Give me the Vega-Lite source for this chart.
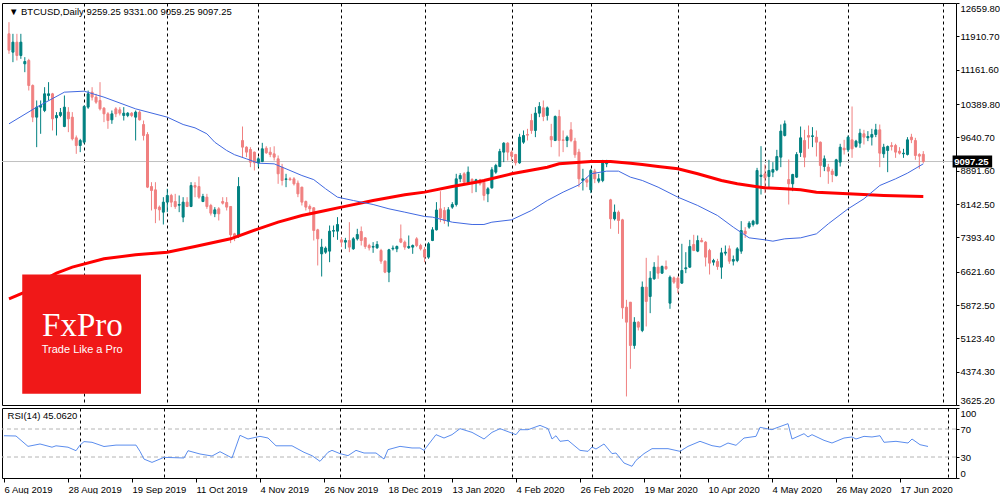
{
"$schema": "https://vega.github.io/schema/vega-lite/v6.json",
"padding": {"left": 1, "top": 2, "right": 0, "bottom": 0},
"background": "white",
"spacing": 3,
"bounds": "flush",
"config": {"view": {"stroke": "black", "strokeWidth": 1}, "axis": {"labelFont": "Liberation Sans", "labelFontSize": 9.5, "labelColor": "black", "tickColor": "black", "labelOverlap": false}},
"datasets": {"btc": [
{"d":"2019-08-06","o":11967,"h":12229,"l":11517,"c":11600,"m":9944,"m2":6012,"r":60.4},
{"d":"2019-08-07","o":11555,"h":11967,"l":11330,"c":11780},
{"d":"2019-08-08","o":11780,"h":11967,"l":11368,"c":11480},
{"d":"2019-08-09","o":11480,"h":11967,"l":11405,"c":11780,"r":60},
{"d":"2019-08-12","o":11293,"h":11443,"l":11105,"c":11345,"m2":6161},
{"d":"2019-08-13","o":11368,"h":11405,"l":10693,"c":10806},
{"d":"2019-08-14","o":10806,"h":10830,"l":9982,"c":10094,"r":45.2},
{"d":"2019-08-15","o":10094,"h":10469,"l":9420,"c":10319,"m":10319,"m2":6349},
{"d":"2019-08-16","o":10319,"h":10469,"l":9720,"c":10356},
{"d":"2019-08-19","o":10244,"h":10768,"l":10207,"c":10619,"r":48.6},
{"d":"2019-08-20","o":10581,"h":10881,"l":10469,"c":10619},
{"d":"2019-08-21","o":10619,"h":10640,"l":9795,"c":10057},
{"d":"2019-08-22","o":10079,"h":10207,"l":9682,"c":10132,"m2":6588,"r":44},
{"d":"2019-08-23","o":10132,"h":10300,"l":10094,"c":10200,"r":46},
{"d":"2019-08-26","o":9884,"h":10581,"l":9869,"c":10319,"m":10656},
{"d":"2019-08-27","o":10207,"h":10319,"l":9757,"c":10057},
{"d":"2019-08-28","o":10094,"h":10207,"l":9570,"c":9607,"m2":6723,"r":44},
{"d":"2019-08-29","o":9630,"h":9682,"l":9270,"c":9457},
{"d":"2019-08-30","o":9457,"h":9607,"l":9308,"c":9570,"r":39},
{"d":"2019-09-02","o":9532,"h":10360,"l":9500,"c":10334,"m":10678,"r":47},
{"d":"2019-09-03","o":10319,"h":10693,"l":10281,"c":10619,"r":52},
{"d":"2019-09-04","o":10656,"h":10768,"l":10469,"c":10544},
{"d":"2019-09-05","o":10544,"h":10619,"l":10394,"c":10431,"r":51},
{"d":"2019-09-06","o":10469,"h":10881,"l":10244,"c":10281},
{"d":"2019-09-09","o":10297,"h":10319,"l":9982,"c":10169,"m":10544,"m2":6910},
{"d":"2019-09-10","o":10169,"h":10207,"l":9832,"c":10019,"r":45},
{"d":"2019-09-11","o":10034,"h":10244,"l":9944,"c":10169},
{"d":"2019-09-12","o":10281,"h":10319,"l":10094,"c":10169},
{"d":"2019-09-13","o":10259,"h":10319,"l":10132,"c":10184,"r":47},
{"d":"2019-09-16","o":10132,"h":10319,"l":10019,"c":10184},
{"d":"2019-09-17","o":10132,"h":10207,"l":10094,"c":10184},
{"d":"2019-09-18","o":10184,"h":10207,"l":10094,"c":10132},
{"d":"2019-09-19","o":10094,"h":10244,"l":9570,"c":10207,"m":10281,"m2":7000},
{"d":"2019-09-20","o":10207,"h":10244,"l":10019,"c":10034,"r":47},
{"d":"2019-09-23","o":9929,"h":10019,"l":9570,"c":9682,"r":38},
{"d":"2019-09-24","o":9705,"h":9757,"l":8500,"c":8521,"r":27},
{"d":"2019-09-25","o":8536,"h":8633,"l":7997,"c":8446},
{"d":"2019-09-26","o":8461,"h":8633,"l":7712,"c":8034,"r":22.3},
{"d":"2019-09-27","o":8072,"h":8109,"l":7772,"c":8012},
{"d":"2019-09-30","o":7959,"h":8296,"l":7682,"c":8184},
{"d":"2019-10-01","o":8184,"h":8484,"l":7959,"c":8334,"m":10094,"m2":7060,"r":29.5},
{"d":"2019-10-02","o":8334,"h":8371,"l":8072,"c":8184},
{"d":"2019-10-03","o":8199,"h":8371,"l":8034,"c":8087},
{"d":"2019-10-04","o":8116,"h":8334,"l":7959,"c":8131},
{"d":"2019-10-07","o":7847,"h":8296,"l":7734,"c":8184,"m":9929},
{"d":"2019-10-08","o":8184,"h":8296,"l":8072,"c":8087,"r":28.6},
{"d":"2019-10-09","o":8087,"h":8633,"l":8072,"c":8558,"r":39},
{"d":"2019-10-10","o":8558,"h":8633,"l":8296,"c":8521,"m":9854,"m2":7188},
{"d":"2019-10-11","o":8536,"h":8761,"l":8259,"c":8296},
{"d":"2019-10-14","o":8199,"h":8371,"l":8184,"c":8311,"r":34.3},
{"d":"2019-10-15","o":8296,"h":8371,"l":8034,"c":8087,"m":9720},
{"d":"2019-10-16","o":8109,"h":8146,"l":7884,"c":7937},
{"d":"2019-10-17","o":7922,"h":8072,"l":7847,"c":8012,"m":9530,"r":31.4},
{"d":"2019-10-18","o":8034,"h":8072,"l":7772,"c":7922},
{"d":"2019-10-21","o":8199,"h":8296,"l":8131,"c":8161,"r":37.6},
{"d":"2019-10-22","o":8176,"h":8296,"l":7997,"c":8072,"m":9345},
{"d":"2019-10-23","o":8087,"h":8094,"l":7263,"c":7450,"m2":7360},
{"d":"2019-10-24","o":7472,"h":7495,"l":7308,"c":7412,"m":9250,"r":28.6},
{"d":"2019-10-25","o":7412,"h":8746,"l":7382,"c":8536},
{"d":"2019-10-28","o":9570,"h":9884,"l":9195,"c":9420,"r":61},
{"d":"2019-10-29","o":9420,"h":9440,"l":9195,"c":9308,"m":9158},
{"d":"2019-10-30","o":9368,"h":9420,"l":8970,"c":9083,"r":55.7},
{"d":"2019-10-31","o":9308,"h":9320,"l":8896,"c":9068},
{"d":"2019-11-01","o":9068,"h":9195,"l":8970,"c":9158,"m":9060,"m2":7585},
{"d":"2019-11-04","o":9098,"h":9517,"l":9083,"c":9383,"r":59.5},
{"d":"2019-11-05","o":9397,"h":9442,"l":9270,"c":9293},
{"d":"2019-11-06","o":9308,"h":9420,"l":9195,"c":9255,"r":57.1},
{"d":"2019-11-07","o":9270,"h":9440,"l":9120,"c":9195,"m":9045},
{"d":"2019-11-08","o":9158,"h":9233,"l":8596,"c":8821,"m2":7734,"r":46},
{"d":"2019-11-11","o":8970,"h":9045,"l":8558,"c":8671},
{"d":"2019-11-12","o":8693,"h":8821,"l":8521,"c":8708},
{"d":"2019-11-13","o":8708,"h":8746,"l":8671,"c":8686,"m":8896},
{"d":"2019-11-14","o":8708,"h":8746,"l":8558,"c":8596,"r":46},
{"d":"2019-11-15","o":8611,"h":8671,"l":8296,"c":8371},
{"d":"2019-11-18","o":8521,"h":8530,"l":8109,"c":8184,"m":8783,"m2":7884},
{"d":"2019-11-19","o":8199,"h":8221,"l":7997,"c":8072,"r":36.7},
{"d":"2019-11-20","o":8087,"h":8131,"l":7922,"c":8034},
{"d":"2019-11-21","o":8057,"h":8072,"l":7322,"c":7547,"m":8690,"r":31.9},
{"d":"2019-11-22","o":7562,"h":7585,"l":6761,"c":7360},
{"d":"2019-11-25","o":7023,"h":7360,"l":6513,"c":7173,"r":23.8},
{"d":"2019-11-26","o":7060,"h":7188,"l":7023,"c":7150,"m":8484,"m2":7997},
{"d":"2019-11-27","o":7083,"h":7659,"l":6835,"c":7532,"r":36.7},
{"d":"2019-11-28","o":7532,"h":7659,"l":7397,"c":7547,"r":39.5},
{"d":"2019-11-29","o":7532,"h":7847,"l":7337,"c":7682,"m":8296},
{"d":"2019-12-02","o":7337,"h":7397,"l":7173,"c":7285,"m2":8072,"r":34.8},
{"d":"2019-12-03","o":7285,"h":7382,"l":7135,"c":7322},
{"d":"2019-12-04","o":7322,"h":7734,"l":7060,"c":7173,"r":31.9},
{"d":"2019-12-05","o":7135,"h":7397,"l":7113,"c":7360,"m":8221},
{"d":"2019-12-06","o":7360,"h":7585,"l":7322,"c":7457,"r":39.5},
{"d":"2019-12-09","o":7525,"h":7637,"l":7210,"c":7322},
{"d":"2019-12-10","o":7382,"h":7397,"l":7135,"c":7188,"r":35.7},
{"d":"2019-12-11","o":7210,"h":7248,"l":7098,"c":7158},
{"d":"2019-12-12","o":7173,"h":7285,"l":7045,"c":7188,"m":8131,"m2":8221},
{"d":"2019-12-13","o":7158,"h":7308,"l":7135,"c":7233,"r":35.7},
{"d":"2019-12-16","o":7098,"h":7135,"l":6798,"c":6858},
{"d":"2019-12-17","o":6858,"h":6873,"l":6588,"c":6611,"r":27.1},
{"d":"2019-12-18","o":6611,"h":7135,"l":6386,"c":7113,"m":8034,"r":40.5},
{"d":"2019-12-19","o":7135,"h":7210,"l":7098,"c":7150},
{"d":"2019-12-20","o":7135,"h":7210,"l":7060,"c":7188},
{"d":"2019-12-23","o":7360,"h":7682,"l":7263,"c":7285,"r":45.2},
{"d":"2019-12-24","o":7285,"h":7322,"l":7113,"c":7173,"m":7959,"m2":8349},
{"d":"2019-12-26","o":7158,"h":7435,"l":7135,"c":7188},
{"d":"2019-12-27","o":7173,"h":7233,"l":7023,"c":7210,"r":42.9},
{"d":"2019-12-30","o":7360,"h":7397,"l":7173,"c":7210},
{"d":"2019-12-31","o":7210,"h":7248,"l":7098,"c":7135,"r":42.9},
{"d":"2020-01-02","o":7113,"h":7173,"l":6835,"c":6948,"m":7862,"m2":8409,"r":39.5},
{"d":"2020-01-03","o":6948,"h":7285,"l":6910,"c":7248},
{"d":"2020-01-06","o":7322,"h":7622,"l":7308,"c":7562,"m":7847},
{"d":"2020-01-07","o":7562,"h":8184,"l":7547,"c":8007,"r":61.9},
{"d":"2020-01-08","o":8034,"h":8431,"l":7734,"c":7832},
{"d":"2020-01-09","o":7997,"h":8072,"l":7697,"c":7772,"r":57.1},
{"d":"2020-01-10","o":7757,"h":8072,"l":7637,"c":8012},
{"d":"2020-01-13","o":8072,"h":8184,"l":8034,"c":8131,"m":7734,"m2":8536,"r":61.9},
{"d":"2020-01-14","o":8131,"h":8821,"l":8087,"c":8708},
{"d":"2020-01-15","o":8708,"h":8836,"l":8633,"c":8783,"r":70.5},
{"d":"2020-01-16","o":8821,"h":8858,"l":8611,"c":8633},
{"d":"2020-01-17","o":8633,"h":8985,"l":8611,"c":8858},
{"d":"2020-01-20","o":8693,"h":8723,"l":8386,"c":8633,"m":7682,"r":65.2},
{"d":"2020-01-21","o":8633,"h":8708,"l":8409,"c":8686,"m2":8633},
{"d":"2020-01-22","o":8686,"h":8708,"l":8558,"c":8596},
{"d":"2020-01-23","o":8633,"h":8671,"l":8221,"c":8334,"m":7682,"m2":8671,"r":55.7},
{"d":"2020-01-24","o":8371,"h":8521,"l":8184,"c":8484},
{"d":"2020-01-27","o":8506,"h":8970,"l":8484,"c":8911,"m":7734,"r":65.2},
{"d":"2020-01-28","o":8858,"h":9045,"l":8821,"c":9008},
{"d":"2020-01-29","o":8985,"h":9383,"l":8970,"c":9323,"r":70.5},
{"d":"2020-01-30","o":9308,"h":9532,"l":9083,"c":9510},
{"d":"2020-01-31","o":9510,"h":9532,"l":9120,"c":9308},
{"d":"2020-02-03","o":9308,"h":9345,"l":9120,"c":9218,"m":7787,"m2":8821},
{"d":"2020-02-04","o":9255,"h":9270,"l":9008,"c":9068,"r":61.9},
{"d":"2020-02-05","o":9068,"h":9720,"l":9045,"c":9645,"r":69},
{"d":"2020-02-06","o":9532,"h":9795,"l":9495,"c":9682},
{"d":"2020-02-07","o":9705,"h":9832,"l":9570,"c":9690,"r":69},
{"d":"2020-02-10","o":10019,"h":10169,"l":9720,"c":9795,"m":7997},
{"d":"2020-02-11","o":9795,"h":10319,"l":9645,"c":10184},
{"d":"2020-02-12","o":10184,"h":10431,"l":10094,"c":10334,"r":75.2},
{"d":"2020-02-13","o":10304,"h":10469,"l":10004,"c":10109},
{"d":"2020-02-14","o":10132,"h":10334,"l":10019,"c":10304,"m":8221,"m2":8970,"r":70.5},
{"d":"2020-02-17","o":9660,"h":9944,"l":9420,"c":9585,"r":55.7},
{"d":"2020-02-18","o":9570,"h":10132,"l":9555,"c":10109,"r":60.4},
{"d":"2020-02-19","o":10109,"h":10259,"l":9210,"c":9570,"m2":9045,"r":52.4},
{"d":"2020-02-20","o":9585,"h":9795,"l":9308,"c":9570,"m":8409},
{"d":"2020-02-21","o":9570,"h":9682,"l":9420,"c":9645,"r":53.8},
{"d":"2020-02-24","o":9810,"h":9982,"l":9532,"c":9570},
{"d":"2020-02-25","o":9555,"h":9630,"l":9180,"c":9248},
{"d":"2020-02-26","o":9308,"h":9383,"l":8521,"c":8708,"m":8573,"r":39.5},
{"d":"2020-02-27","o":8671,"h":8933,"l":8446,"c":8708},
{"d":"2020-02-28","o":8686,"h":8746,"l":8521,"c":8633,"r":38.1},
{"d":"2020-03-02","o":8461,"h":8933,"l":8386,"c":8896,"m":8821,"m2":9098,"r":44.3},
{"d":"2020-03-03","o":8881,"h":8933,"l":8611,"c":8708,"r":41.4},
{"d":"2020-03-04","o":8656,"h":8821,"l":8611,"c":8708},
{"d":"2020-03-05","o":8671,"h":9135,"l":8633,"c":9105,"r":48.6},
{"d":"2020-03-06","o":9045,"h":9135,"l":8970,"c":9105,"m":8881},
{"d":"2020-03-09","o":8236,"h":8259,"l":7585,"c":7809,"m2":9098,"r":34.8},
{"d":"2020-03-10","o":7809,"h":8131,"l":7772,"c":7959,"r":35.7},
{"d":"2020-03-11","o":7959,"h":7997,"l":7472,"c":7772,"m":8881},
{"d":"2020-03-12","o":7787,"h":7809,"l":5562,"c":5809,"r":21.4},
{"d":"2020-03-13","o":5824,"h":5989,"l":3817,"c":5487},
{"d":"2020-03-16","o":5936,"h":5936,"l":4438,"c":4963,"m":8746,"m2":9060,"r":16.7},
{"d":"2020-03-17","o":4963,"h":5599,"l":4888,"c":5487,"r":25.2},
{"d":"2020-03-18","o":5487,"h":5510,"l":5300,"c":5375},
{"d":"2020-03-19","o":5300,"h":6401,"l":5262,"c":6274,"m":8671,"m2":9030,"r":34.8},
{"d":"2020-03-20","o":6274,"h":6933,"l":5390,"c":5952},
{"d":"2020-03-23","o":6064,"h":6633,"l":5689,"c":6476,"r":41.9},
{"d":"2020-03-24","o":6461,"h":6836,"l":6438,"c":6723},
{"d":"2020-03-25","o":6723,"h":6985,"l":6461,"c":6588,"m":8521,"m2":8985},
{"d":"2020-03-26","o":6588,"h":6761,"l":6573,"c":6738},
{"d":"2020-03-27","o":6738,"h":6873,"l":6663,"c":6686,"r":41.9},
{"d":"2020-03-30","o":5914,"h":6536,"l":5787,"c":6498},
{"d":"2020-03-31","o":6483,"h":6513,"l":6348,"c":6386},
{"d":"2020-04-01","o":6476,"h":6513,"l":6139,"c":6259,"m":8296,"m2":8933,"r":38.1},
{"d":"2020-04-02","o":6364,"h":7248,"l":6348,"c":6648},
{"d":"2020-04-03","o":6686,"h":7060,"l":6588,"c":6708,"r":45.2},
{"d":"2020-04-06","o":6723,"h":7337,"l":6708,"c":7188},
{"d":"2020-04-07","o":7233,"h":7450,"l":7083,"c":7098},
{"d":"2020-04-08","o":7083,"h":7435,"l":7060,"c":7322,"m":8109,"m2":8821,"r":52.4},
{"d":"2020-04-09","o":7322,"h":7382,"l":7285,"c":7293},
{"d":"2020-04-10","o":7285,"h":7308,"l":6738,"c":6948},
{"d":"2020-04-13","o":7098,"h":7135,"l":6558,"c":6813,"r":46.2},
{"d":"2020-04-14","o":6835,"h":6910,"l":6761,"c":6873},
{"d":"2020-04-15","o":6850,"h":6910,"l":6663,"c":6738,"m":7884,"r":44.3},
{"d":"2020-04-16","o":6723,"h":7158,"l":6461,"c":7045,"m2":8671},
{"d":"2020-04-17","o":7038,"h":7210,"l":6985,"c":7060,"r":50},
{"d":"2020-04-20","o":7135,"h":7210,"l":6798,"c":6858},
{"d":"2020-04-21","o":6858,"h":6985,"l":6761,"c":6895,"m":7622,"r":46.7},
{"d":"2020-04-22","o":6873,"h":7173,"l":6835,"c":7135,"m2":8596},
{"d":"2020-04-23","o":7083,"h":7757,"l":7023,"c":7547,"r":57.1},
{"d":"2020-04-24","o":7532,"h":7622,"l":7382,"c":7472},
{"d":"2020-04-27","o":7622,"h":7757,"l":7585,"c":7712,"m":7382},
{"d":"2020-04-28","o":7682,"h":7787,"l":7637,"c":7757,"r":59.5},
{"d":"2020-04-29","o":7697,"h":8955,"l":7682,"c":8896,"r":72.4},
{"d":"2020-04-30","o":8761,"h":9442,"l":8356,"c":8791},
{"d":"2020-05-01","o":8821,"h":9030,"l":8386,"c":8731,"m":7337,"m2":8506},
{"d":"2020-05-04","o":8761,"h":9135,"l":8506,"c":8896,"r":69},
{"d":"2020-05-05","o":8858,"h":9083,"l":8746,"c":8918,"m":7307,"r":71.4},
{"d":"2020-05-06","o":8911,"h":9360,"l":8881,"c":9210},
{"d":"2020-05-07","o":9195,"h":9929,"l":8970,"c":9780},
{"d":"2020-05-08","o":9682,"h":10019,"l":9660,"c":9944,"m":7360,"m2":8484,"r":77.6},
{"d":"2020-05-11","o":8693,"h":9143,"l":8131,"c":8596,"r":55.7},
{"d":"2020-05-12","o":8596,"h":8821,"l":8431,"c":8806},
{"d":"2020-05-13","o":8746,"h":9308,"l":8731,"c":9255},
{"d":"2020-05-14","o":9300,"h":9884,"l":9200,"c":9630,"m":7382,"m2":8461,"r":63.3},
{"d":"2020-05-15","o":9570,"h":9810,"l":8970,"c":9195,"r":58.6},
{"d":"2020-05-18","o":9682,"h":9907,"l":9383,"c":9645,"r":61.9},
{"d":"2020-05-19","o":9660,"h":9870,"l":9420,"c":9675},
{"d":"2020-05-20","o":9645,"h":9795,"l":9210,"c":9532,"m":7472,"m2":8409},
{"d":"2020-05-21","o":9532,"h":9547,"l":8746,"c":9008,"r":53.8},
{"d":"2020-05-22","o":8985,"h":9233,"l":8881,"c":9158},
{"d":"2020-05-25","o":8970,"h":9045,"l":8596,"c":8881,"m":7697,"r":50},
{"d":"2020-05-26","o":8881,"h":8933,"l":8633,"c":8806},
{"d":"2020-05-27","o":8783,"h":9158,"l":8761,"c":9135},
{"d":"2020-05-28","o":9083,"h":9495,"l":8985,"c":9420,"r":57.1},
{"d":"2020-05-29","o":9397,"h":9585,"l":9255,"c":9360},
{"d":"2020-06-01","o":9360,"h":9682,"l":9308,"c":9645,"m":8034,"m2":8371,"r":58.6},
{"d":"2020-06-02","o":9585,"h":10334,"l":9180,"c":9383,"r":55.7},
{"d":"2020-06-03","o":9435,"h":9585,"l":9405,"c":9555},
{"d":"2020-06-04","o":9510,"h":9832,"l":9405,"c":9735,"r":59.5},
{"d":"2020-06-05","o":9720,"h":9810,"l":9480,"c":9645,"m":8259},
{"d":"2020-06-08","o":9630,"h":9780,"l":9555,"c":9660,"r":58.6},
{"d":"2020-06-09","o":9645,"h":9832,"l":9457,"c":9705},
{"d":"2020-06-10","o":9705,"h":9944,"l":9645,"c":9810,"r":60.4},
{"d":"2020-06-11","o":9810,"h":9929,"l":8970,"c":9285,"m":8558,"r":51},
{"d":"2020-06-12","o":9270,"h":9495,"l":9180,"c":9420,"m2":8334},
{"d":"2020-06-15","o":9345,"h":9457,"l":8858,"c":9435},
{"d":"2020-06-16","o":9457,"h":9532,"l":9345,"c":9435,"r":52.4},
{"d":"2020-06-17","o":9457,"h":9495,"l":9180,"c":9308,"m":8708},
{"d":"2020-06-18","o":9330,"h":9420,"l":9255,"c":9285},
{"d":"2020-06-19","o":9270,"h":9383,"l":9180,"c":9285,"r":50},
{"d":"2020-06-22","o":9255,"h":9645,"l":9233,"c":9585,"m":8836,"r":55.7},
{"d":"2020-06-23","o":9645,"h":9720,"l":9510,"c":9585},
{"d":"2020-06-24","o":9570,"h":9630,"l":9135,"c":9233,"r":47.6},
{"d":"2020-06-25","o":9255,"h":9285,"l":8933,"c":9218},
{"d":"2020-06-26","o":9259.25,"h":9331,"l":9059.25,"c":9097.25,"m":9045,"m2":8311,"r":45.06}
]},
"vconcat": [
{
"width": 954, "height": 402,
"layer": [
{"data": {"values": [{}]}, "mark": {"type": "rule", "color": "#C0C0C0", "strokeWidth": 1},
 "encoding": {"y": {"datum": 9097.25, "type": "quantitative", "scale": {"domain": [3625.2, 12659.8], "nice": false, "zero": false}}}},
{"data": {"name": "btc"}, "transform": [{"window": [{"op": "row_number", "as": "i"}]}],
 "mark": {"type": "rule", "strokeWidth": 1},
 "encoding": {
  "x": {"field": "i", "type": "quantitative", "scale": {"domain": [0.5, 239], "nice": false, "zero": false},
        "axis": {"values": [20, 41, 64, 85, 106, 128, 148, 170, 192, 213, 237], "tickCount": 200, "grid": true, "gridColor": "black", "gridDash": [3, 3], "gridOpacity": 1, "labels": false, "ticks": false, "domain": false, "title": null}},
  "y": {"field": "l", "type": "quantitative", "scale": {"domain": [3625.2, 12659.8], "nice": false, "zero": false},
        "axis": {"orient": "right", "values": [3625.2, 4374.3, 5123.4, 5872.5, 6621.6, 7393.4, 8142.5, 8891.6, 9640.7, 10389.8, 11161.6, 11910.7, 12659.8], "tickCount": 200, "format": ".2f", "labelFlush": true, "labelOverlap": false, "grid": false, "tickSize": 3, "labelPadding": 1, "domain": false, "title": null}},
  "y2": {"field": "h"},
  "stroke": {"condition": {"test": "datum.c >= datum.o", "value": "#008080"}, "value": "#F08080"}
 }},
{"data": {"name": "btc"}, "transform": [{"window": [{"op": "row_number", "as": "i"}]}],
 "mark": {"type": "bar", "size": 2, "strokeWidth": 1},
 "encoding": {
  "x": {"field": "i", "type": "quantitative", "scale": {"domain": [0.5, 239], "nice": false, "zero": false}},
  "y": {"field": "o", "type": "quantitative", "scale": {"domain": [3625.2, 12659.8], "nice": false, "zero": false}},
  "y2": {"field": "c"},
  "fill": {"condition": {"test": "datum.c >= datum.o", "value": "#008080"}, "value": "#F08080"},
  "stroke": {"condition": {"test": "datum.c >= datum.o", "value": "#008080"}, "value": "#F08080"}
 }},
{"data": {"name": "btc"}, "transform": [{"window": [{"op": "row_number", "as": "i"}]}, {"filter": "datum.m2 != null"}],
 "mark": {"type": "line", "color": "#FF0000", "strokeWidth": 3},
 "encoding": {
  "x": {"field": "i", "type": "quantitative", "scale": {"domain": [0.5, 239], "nice": false, "zero": false}},
  "y": {"field": "m2", "type": "quantitative", "scale": {"domain": [3625.2, 12659.8], "nice": false, "zero": false}}
 }},
{"data": {"name": "btc"}, "transform": [{"window": [{"op": "row_number", "as": "i"}]}, {"filter": "datum.m != null"}],
 "mark": {"type": "line", "color": "#4169E1", "strokeWidth": 1},
 "encoding": {
  "x": {"field": "i", "type": "quantitative", "scale": {"domain": [0.5, 239], "nice": false, "zero": false}},
  "y": {"field": "m", "type": "quantitative", "scale": {"domain": [3625.2, 12659.8], "nice": false, "zero": false}}
 }},
{"data": {"values": [{}]}, "mark": {"type": "rect", "color": "#F01818"},
 "encoding": {
  "x": {"datum": 4.35, "type": "quantitative", "scale": {"domain": [0.5, 239], "nice": false, "zero": false}},
  "x2": {"datum": 34.35},
  "y": {"datum": 6558, "type": "quantitative", "scale": {"domain": [3625.2, 12659.8], "nice": false, "zero": false}},
  "y2": {"datum": 3877}
 }},
{"data": {"values": [{}]}, "mark": {"type": "text", "text": "FxPro", "font": "Liberation Serif", "fontSize": 33, "color": "white", "align": "center", "baseline": "alphabetic"},
 "encoding": {
  "x": {"datum": 19.55, "type": "quantitative", "scale": {"domain": [0.5, 239], "nice": false, "zero": false}},
  "y": {"datum": 5175, "type": "quantitative", "scale": {"domain": [3625.2, 12659.8], "nice": false, "zero": false}}
 }},
{"data": {"values": [{}]}, "mark": {"type": "text", "text": "Trade Like a Pro", "font": "Liberation Sans", "fontSize": 11, "color": "white", "align": "center", "baseline": "alphabetic"},
 "encoding": {
  "x": {"datum": 19.5, "type": "quantitative", "scale": {"domain": [0.5, 239], "nice": false, "zero": false}},
  "y": {"datum": 4805, "type": "quantitative", "scale": {"domain": [3625.2, 12659.8], "nice": false, "zero": false}}
 }},
{"data": {"values": [{}]}, "mark": {"type": "text", "text": "▼ BTCUSD,Daily  9259.25 9331.00 9059.25 9097.25", "font": "Liberation Sans", "fontSize": 9.5, "color": "black", "align": "left", "baseline": "middle"},
 "encoding": {
  "x": {"datum": 1.0, "type": "quantitative", "scale": {"domain": [0.5, 239], "nice": false, "zero": false}},
  "y": {"datum": 12453, "type": "quantitative", "scale": {"domain": [3625.2, 12659.8], "nice": false, "zero": false}}
 }},
{"data": {"values": [{}]}, "mark": {"type": "rect", "color": "black"},
 "encoding": {
  "x": {"datum": 239.4, "type": "quantitative", "scale": {"domain": [0.5, 239], "nice": false, "zero": false}},
  "x2": {"datum": 249.4},
  "y": {"datum": 9232, "type": "quantitative", "scale": {"domain": [3625.2, 12659.8], "nice": false, "zero": false}},
  "y2": {"datum": 8962}
 }},
{"data": {"values": [{}]}, "mark": {"type": "text", "text": "9097.25", "font": "Liberation Sans", "fontSize": 9.5, "fontWeight": "bold", "color": "white", "align": "left", "baseline": "middle"},
 "encoding": {
  "x": {"datum": 239.8, "type": "quantitative", "scale": {"domain": [0.5, 239], "nice": false, "zero": false}},
  "y": {"datum": 9097.25, "type": "quantitative", "scale": {"domain": [3625.2, 12659.8], "nice": false, "zero": false}}
 }}
]
},
{
"width": 954, "height": 70,
"layer": [
{"data": {"values": [{"lv": 30}, {"lv": 70}]}, "mark": {"type": "rule", "color": "#B4B4B4", "strokeWidth": 1, "strokeDash": [4, 3]},
 "encoding": {"y": {"field": "lv", "type": "quantitative", "scale": {"domain": [0, 100], "nice": false, "zero": false}}}},
{"data": {"name": "btc"}, "transform": [{"window": [{"op": "row_number", "as": "i"}]}, {"filter": "datum.r != null"}],
 "mark": {"type": "line", "color": "#5B8DEE", "strokeWidth": 1},
 "encoding": {
  "x": {"field": "i", "type": "quantitative", "scale": {"domain": [0.5, 239], "nice": false, "zero": false},
        "axis": {"values": [1, 17, 33, 49, 65, 81, 97, 113, 129, 145, 161, 177, 193, 209, 225, 20, 41, 64, 85, 106, 128, 148, 170, 192, 213, 237], "tickCount": 200,
                 "labelExpr": "(datum.value - 1) % 16 == 0 ? ['6 Aug 2019','28 Aug 2019','19 Sep 2019','11 Oct 2019','4 Nov 2019','26 Nov 2019','18 Dec 2019','13 Jan 2020','4 Feb 2020','26 Feb 2020','19 Mar 2020','10 Apr 2020','4 May 2020','26 May 2020','17 Jun 2020'][(datum.value - 1) / 16] : ''",
                 "labelAlign": "left", "labelFlush": false, "labelOverlap": false, "labelPadding": 2, "tickSize": 4,
                 "tickOpacity": {"condition": {"test": "(datum.value - 1) % 16 == 0", "value": 1}, "value": 0},
                 "grid": true, "gridColor": "black", "gridDash": [3, 3],
                 "gridOpacity": {"condition": {"test": "(datum.value - 1) % 16 == 0", "value": 0}, "value": 1},
                 "domain": false, "title": null}},
  "y": {"field": "r", "type": "quantitative", "scale": {"domain": [0, 100], "nice": false, "zero": false},
        "axis": {"orient": "right", "values": [0, 30, 70, 100], "tickCount": 200, "format": "d", "labelFlush": true, "labelOverlap": false, "tickSize": 3, "labelPadding": 1, "domain": false, "grid": false, "title": null}}
 }},
{"data": {"values": [{}]}, "mark": {"type": "text", "text": "RSI(14) 45.0620", "font": "Liberation Sans", "fontSize": 9.5, "color": "black", "align": "left", "baseline": "middle"},
 "encoding": {
  "x": {"datum": 1.9, "type": "quantitative", "scale": {"domain": [0.5, 239], "nice": false, "zero": false}},
  "y": {"datum": 87.9, "type": "quantitative", "scale": {"domain": [0, 100], "nice": false, "zero": false}}
 }}
]
}
]
}
